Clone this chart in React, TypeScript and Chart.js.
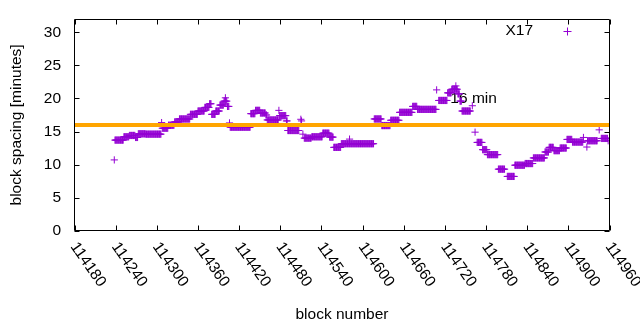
import React, { useEffect, useRef } from 'react';
import { Chart, registerables } from 'chart.js';

Chart.register(...registerables);

// Runs of consecutive blocks sharing the same plotted spacing (minutes)
const runStart = [
  114238, 114239, 114252, 114260, 114269, 114273, 114284, 114307, 114308, 114317,
  114326, 114333, 114349, 114360, 114370, 114377, 114380, 114386, 114392, 114398,
  114400, 114403, 114406, 114407, 114437, 114444, 114451, 114459, 114461, 114478,
  114479, 114489, 114491, 114510, 114511, 114513, 114515, 114526, 114542, 114552,
  114558, 114569, 114581, 114617, 114628, 114641, 114654, 114673, 114680, 114708,
  114711, 114724, 114730, 114736, 114739, 114742, 114745, 114760, 114764, 114767,
  114775, 114782, 114798, 114811, 114822, 114837, 114849, 114866, 114872, 114879,
  114888, 114898, 114906, 114922, 114927, 114928, 114945, 114948, 114958,
];
const runEnd = [
  114238, 114251, 114259, 114268, 114272, 114283, 114306, 114307, 114316, 114325,
  114332, 114348, 114359, 114369, 114376, 114379, 114385, 114391, 114397, 114402,
  114400, 114405, 114406, 114436, 114443, 114450, 114458, 114460, 114477, 114478,
  114488, 114490, 114507, 114510, 114511, 114513, 114525, 114541, 114551, 114557,
  114568, 114616, 114581, 114627, 114640, 114653, 114672, 114679, 114707, 114708,
  114723, 114729, 114738, 114736, 114741, 114744, 114757, 114760, 114764, 114774,
  114781, 114797, 114807, 114821, 114836, 114848, 114865, 114871, 114878, 114887,
  114897, 114905, 114921, 114922, 114927, 114942, 114945, 114957, 114958,
];
const runValue = [
  10.7, 13.7, 14.2, 14.4, 14.1, 14.65, 14.6, 16.35, 15.5, 15.95,
  16.45, 16.9, 17.6, 18.1, 18.65, 19.2, 17.6, 18.1, 19.0, 19.6,
  20.1, 18.8, 16.3, 15.65, 17.7, 18.2, 17.8, 17.5, 16.75, 18.2,
  17.4, 16.6, 15.15, 16.85, 16.6, 14.6, 14.0, 14.2, 14.75, 14.15,
  12.6, 13.15, 13.85, 16.9, 15.9, 16.7, 17.9, 18.8, 18.35, 21.3,
  19.7, 20.85, 21.4, 21.9, 20.7, 19.6, 18.1, 18.9, 14.9, 13.35,
  12.25, 11.5, 9.3, 8.2, 9.9, 10.15, 11.0, 11.9, 12.6, 12.1,
  12.5, 13.8, 13.4, 14.1, 12.65, 13.6, 15.25, 13.95, 13.6,
];

const xTicks = [114180, 114240, 114300, 114360, 114420, 114480, 114540, 114600, 114660, 114720, 114780, 114840, 114900, 114960];
const yTicks = [0, 5, 10, 15, 20, 25, 30];
const xMin = 114180;
const xMax = 114960;
const yMin = 0;
const yMax = 32;
const refValue = 16;
const refLabel = '16 min';
const refLabelX = 114728;
const refLabelY = 20;
const seriesName = 'X17';
const xTitle = 'block number';
const yTitle = 'block spacing [minutes]';

const PURPLE = '#9400D3';
const ORANGE = '#FFA500';
const FONT = '15.5px "Liberation Sans", Arial, sans-serif';

function buildPoints() {
  const pts: { x: number; y: number }[] = [];
  for (let i = 0; i < runStart.length; i++) {
    for (let b = runStart[i]; b <= runEnd[i]; b++) {
      pts.push({ x: b, y: runValue[i] });
    }
  }
  return pts;
}

const gnuplotFrame = {
  id: 'gnuplotFrame',
  beforeDatasetsDraw(chart: any) {
    const { ctx, scales } = chart;
    const x = scales.x;
    const y = scales.y;
    ctx.save();
    ctx.font = FONT;
    ctx.fillStyle = '#000';
    ctx.textAlign = 'left';
    ctx.textBaseline = 'middle';
    ctx.fillText(refLabel, x.getPixelForValue(refLabelX), y.getPixelForValue(refLabelY));
    ctx.restore();
  },
  afterDatasetsDraw(chart: any) {
    const { ctx, chartArea: a, scales } = chart;
    const x = scales.x;
    const y = scales.y;
    const L = Math.floor(a.left) + 0.5;
    const R = Math.floor(a.right) + 0.5;
    const T = Math.floor(a.top) + 0.5;
    const B = Math.floor(a.bottom) + 0.5;
    const tl = 5;
    ctx.save();
    ctx.strokeStyle = '#000';
    ctx.lineWidth = 1;
    ctx.beginPath();
    ctx.rect(L, T, R - L, B - T);
    for (const v of xTicks) {
      const px = Math.round(x.getPixelForValue(v)) + 0.5;
      ctx.moveTo(px, B);
      ctx.lineTo(px, B - tl);
      ctx.moveTo(px, T);
      ctx.lineTo(px, T + tl);
    }
    for (const v of yTicks) {
      const py = Math.round(y.getPixelForValue(v)) + 0.5;
      ctx.moveTo(L, py);
      ctx.lineTo(L + tl, py);
      ctx.moveTo(R, py);
      ctx.lineTo(R - tl, py);
    }
    ctx.stroke();

    ctx.font = FONT;
    ctx.fillStyle = '#000';
    // y tick labels
    ctx.textAlign = 'right';
    ctx.textBaseline = 'middle';
    for (const v of yTicks) {
      ctx.fillText(String(v), 61, y.getPixelForValue(v));
    }
    // x tick labels, rotated
    ctx.textAlign = 'left';
    for (const v of xTicks) {
      const px = x.getPixelForValue(v);
      ctx.save();
      ctx.translate(px - 1, 244);
      ctx.rotate((55 * Math.PI) / 180);
      ctx.fillText(String(v), 0, 0);
      ctx.restore();
    }
    // axis titles
    ctx.textAlign = 'center';
    ctx.fillText(xTitle, (a.left + a.right) / 2, 315);
    ctx.save();
    ctx.translate(17, (a.top + a.bottom) / 2);
    ctx.rotate(-Math.PI / 2);
    ctx.fillText(yTitle, 0, 0);
    ctx.restore();

    // key
    ctx.textAlign = 'right';
    ctx.fillText(seriesName, 533, 31);
    ctx.strokeStyle = PURPLE;
    ctx.beginPath();
    ctx.moveTo(563.5, 31.5);
    ctx.lineTo(571.5, 31.5);
    ctx.moveTo(567.5, 27.5);
    ctx.lineTo(567.5, 35.5);
    ctx.stroke();
    ctx.restore();
  },
};

export default function App() {
  const ref = useRef<HTMLCanvasElement | null>(null);
  useEffect(() => {
    if (!ref.current) return;
    const chart = new Chart(ref.current, {
      type: 'scatter',
      data: {
        datasets: [
          {
            label: 'ref',
            data: [
              { x: xMin, y: refValue },
              { x: xMax, y: refValue },
            ],
            showLine: true,
            borderColor: ORANGE,
            backgroundColor: ORANGE,
            borderWidth: 4,
            pointRadius: 0,
          } as any,
          {
            label: seriesName,
            data: buildPoints(),
            pointStyle: 'cross',
            pointRadius: 3.6,
            borderColor: PURPLE,
            backgroundColor: PURPLE,
            borderWidth: 1,
            showLine: false,
          } as any,
        ],
      },
      options: {
        animation: false,
        responsive: false,
        devicePixelRatio: 1,
        events: [],
        layout: { padding: { left: 74.5, right: 30.5, top: 19.2, bottom: 99.4 } },
        plugins: { legend: { display: false }, tooltip: { enabled: false } },
        scales: {
          x: { type: 'linear', min: xMin, max: xMax, display: false },
          y: { type: 'linear', min: yMin, max: yMax, display: false },
        },
      },
      plugins: [gnuplotFrame],
    });
    return () => chart.destroy();
  }, []);
  return (
    <div style={{ position: 'absolute', left: 0, top: 0, width: 640, height: 330, background: '#fff' }}>
      <canvas ref={ref} width={640} height={330} style={{ display: 'block' }} />
    </div>
  );
}
